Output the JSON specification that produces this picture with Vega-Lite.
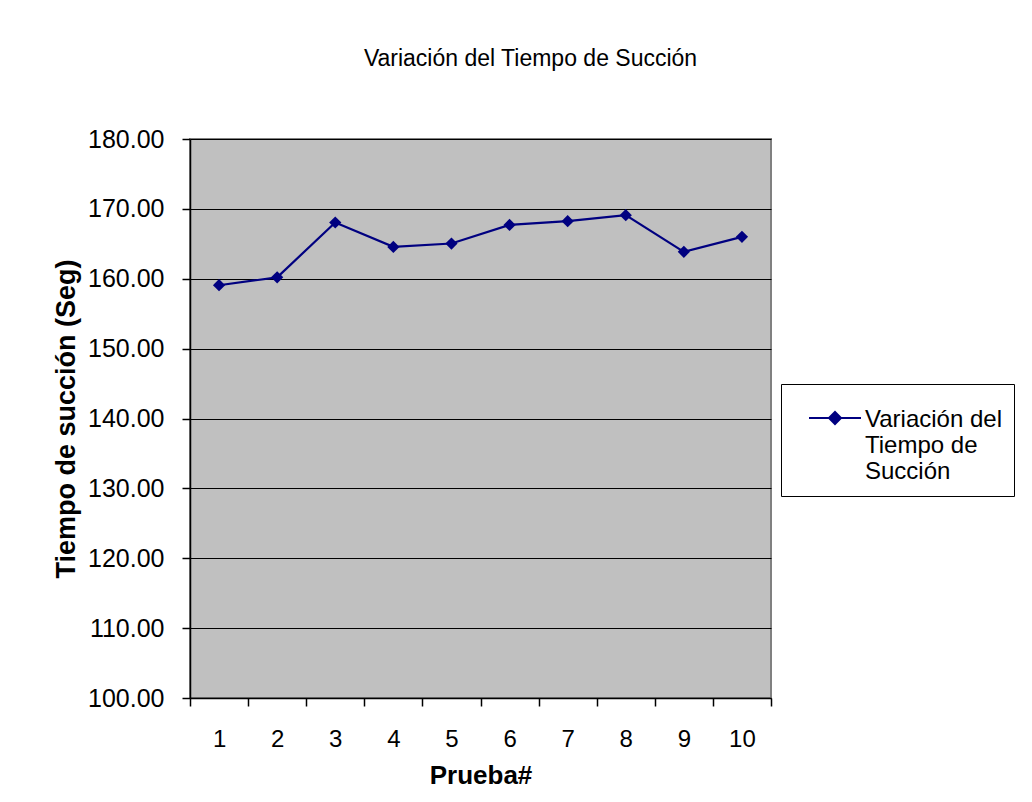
{
  "$schema": "https://vega.github.io/schema/vega-lite/v6.json",
  "width": 581,
  "height": 559,
  "autosize": {"type": "none"},
  "padding": {"left": 190, "top": 139, "right": 261, "bottom": 104},
  "background": "white",
  "title": {
    "text": "Variación del Tiempo de Succión",
    "font": "Liberation Sans",
    "fontSize": 23,
    "fontWeight": "normal",
    "color": "black",
    "anchor": "middle",
    "frame": "group",
    "baseline": "alphabetic",
    "offset": 38,
    "dx": 50
  },
  "config": {
    "font": "Liberation Sans",
    "view": {"fill": "#C0C0C0", "stroke": "#808080", "strokeWidth": 2}
  },
  "data": {
    "values": [
      {"prueba": "1", "tiempo": 159.07, "serie": "Variación del Tiempo de Succión"},
      {"prueba": "2", "tiempo": 160.2, "serie": "Variación del Tiempo de Succión"},
      {"prueba": "3", "tiempo": 168.05, "serie": "Variación del Tiempo de Succión"},
      {"prueba": "4", "tiempo": 164.56, "serie": "Variación del Tiempo de Succión"},
      {"prueba": "5", "tiempo": 165.04, "serie": "Variación del Tiempo de Succión"},
      {"prueba": "6", "tiempo": 167.7, "serie": "Variación del Tiempo de Succión"},
      {"prueba": "7", "tiempo": 168.24, "serie": "Variación del Tiempo de Succión"},
      {"prueba": "8", "tiempo": 169.1, "serie": "Variación del Tiempo de Succión"},
      {"prueba": "9", "tiempo": 163.85, "serie": "Variación del Tiempo de Succión"},
      {"prueba": "10", "tiempo": 166.0, "serie": "Variación del Tiempo de Succión"}
    ]
  },
  "encoding": {
    "x": {
      "field": "prueba",
      "type": "ordinal",
      "sort": null,
      "scale": {"paddingInner": 0, "paddingOuter": 0},
      "axis": {
        "title": "Prueba#",
        "titleFont": "Liberation Sans",
        "titleFontSize": 26,
        "titleFontWeight": "bold",
        "titleColor": "black",
        "titlePadding": 11,
        "labelFont": "Liberation Sans",
        "labelFontSize": 24,
        "labelColor": "black",
        "labelAngle": 0,
        "labelPadding": 21,
        "tickBand": "extent",
        "tickSize": 8,
        "tickColor": "black",
        "tickWidth": 1.5,
        "domainColor": "black",
        "domainWidth": 1.5,
        "grid": false
      }
    },
    "y": {
      "field": "tiempo",
      "type": "quantitative",
      "scale": {"domain": [100, 180], "nice": false, "zero": false},
      "axis": {
        "title": "Tiempo de succión (Seg)",
        "titleFont": "Liberation Sans",
        "titleFontSize": 27,
        "titleFontWeight": "bold",
        "titleColor": "black",
        "titlePadding": 7,
        "labelFont": "Liberation Sans",
        "labelFontSize": 25,
        "labelColor": "black",
        "labelPadding": 18,
        "format": ".2f",
        "values": [100, 110, 120, 130, 140, 150, 160, 170, 180],
        "tickSize": 8,
        "tickColor": "black",
        "tickWidth": 1.5,
        "domainColor": "black",
        "domainWidth": 1.5,
        "grid": true,
        "gridColor": "black",
        "gridWidth": 1,
        "gridOpacity": 1
      }
    }
  },
  "layer": [
    {
      "mark": {"type": "line", "color": "#000080", "strokeWidth": 2.2}
    },
    {
      "mark": {"type": "point", "shape": "diamond", "filled": true, "size": 150, "opacity": 1},
      "encoding": {
        "color": {
          "field": "serie",
          "type": "nominal",
          "scale": {"range": ["#000080"]},
          "legend": {
            "title": null,
            "orient": "none",
            "legendX": 591,
            "legendY": 245,
            "padding": 12,
            "strokeColor": "black",
            "fillColor": "white",
            "cornerRadius": 0,
            "symbolType": "M-5.2,2.0L5.2,2.0M-1.2,2.0L0,0.8L1.2,2.0L0,3.2Z",
            "symbolSize": 100,
            "symbolOffset": 30,
            "symbolStrokeWidth": 2,
            "symbolStrokeColor": "#000080",
            "symbolFillColor": "#000080",
            "labelFont": "Liberation Sans",
            "labelFontSize": 24,
            "labelColor": "black",
            "labelOffset": 18,
            "labelLimit": 300,
            "labelBaseline": "top",
            "labelExpr": "['Variación del', 'Tiempo de', 'Succión']",
            "encode": {
              "symbols": {
                "update": {
                  "stroke": {"value": "#000080"},
                  "strokeWidth": {"value": 2},
                  "fill": {"value": "#000080"},
                  "opacity": {"value": 1},
                  "strokeOpacity": {"value": 1}
                }
              }
            }
          }
        }
      }
    }
  ]
}
